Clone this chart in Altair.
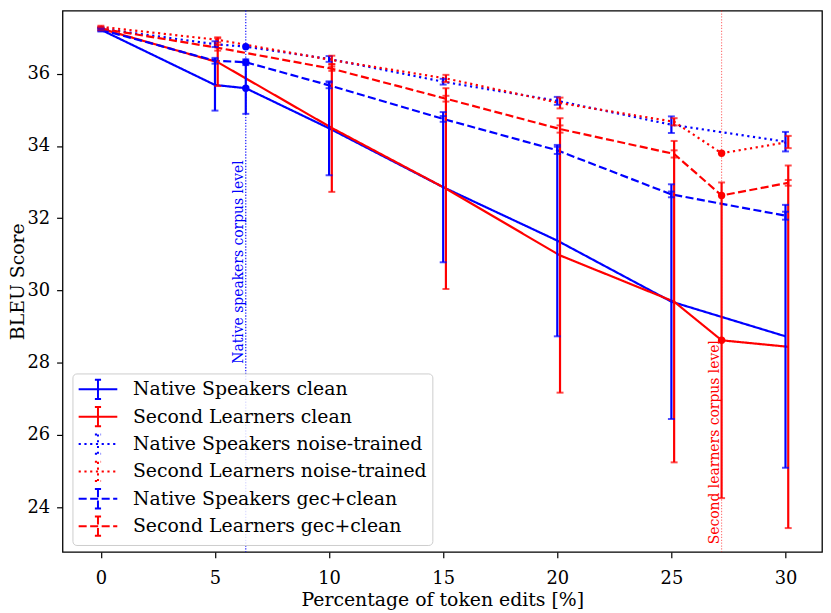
import altair as alt
import pandas as pd

# ---------------- data ----------------
SERIES = [
    "Native Speakers clean",
    "Second Learners clean",
    "Native Speakers noise-trained",
    "Second Learners noise-trained",
    "Native Speakers gec+clean",
    "Second Learners gec+clean",
]

# Native speakers (blue): x positions include the native corpus level (6.35)
ns_x = [0, 5, 6.35, 10, 15, 20, 25, 30]
ns_corpus_index = 2
# Second learners (red): x positions include the learners corpus level (27.2)
sl_x = [0, 5, 10, 15, 20, 25, 27.2, 30]
sl_corpus_index = 6

ns_clean_y = [37.22, 35.69, 35.60, 34.49, 32.86, 31.38, 29.69, 28.73]
ns_clean_err = [0.05, 0.71, 0.71, 1.30, 2.08, 2.65, 3.25, 3.64]

sl_clean_y = [37.25, 36.32, 34.50, 32.82, 30.97, 29.69, 28.62, 28.44]
sl_clean_err = [0.05, 0.66, 1.77, 2.78, 3.80, 4.45, 4.37, 5.02]

ns_noise_y = [37.25, 36.82, 36.75, 36.41, 35.78, 35.25, 34.59, 34.12]
ns_noise_err = [0.03, 0.08, 0.0, 0.08, 0.08, 0.11, 0.23, 0.27]

sl_noise_y = [37.30, 36.94, 36.38, 35.87, 35.19, 34.67, 33.80, 34.11]
sl_noise_err = [0.03, 0.07, 0.12, 0.10, 0.15, 0.10, 0.0, 0.17]

ns_gec_y = [37.22, 36.36, 36.32, 35.68, 34.75, 33.88, 32.66, 32.07]
ns_gec_err = [0.03, 0.08, 0.08, 0.08, 0.08, 0.10, 0.08, 0.11]

sl_gec_y = [37.25, 36.72, 36.14, 35.31, 34.47, 33.78, 32.63, 32.98]
sl_gec_err = [0.03, 0.08, 0.06, 0.08, 0.10, 0.10, 0.0, 0.08]

corpus_levels = [6.35, 27.2]
corpus_labels = ["Native speakers corpus level", "Second learners corpus level"]
corpus_label_y = [28, 23]

x_ticks = [0, 5, 10, 15, 20, 25, 30]
y_ticks = [24, 26, 28, 30, 32, 34, 36]

# ---------------- styles ----------------
BLUE = "#0000ff"
RED = "#ff0000"
RED_SHIFT = 0.12  # small horizontal dodge of the red error bars
LW = 2.2
DOT = [2.2, 3.6]
DASH = [8.1, 3.5]
SOLID = [1, 0]

series_colors = [BLUE, RED, BLUE, RED, BLUE, RED]
series_dashes = [SOLID, SOLID, DOT, DOT, DASH, DASH]

values = [
    (ns_x, ns_clean_y, ns_clean_err, False, ns_corpus_index),
    (sl_x, sl_clean_y, sl_clean_err, True, sl_corpus_index),
    (ns_x, ns_noise_y, ns_noise_err, False, ns_corpus_index),
    (sl_x, sl_noise_y, sl_noise_err, True, sl_corpus_index),
    (ns_x, ns_gec_y, ns_gec_err, False, ns_corpus_index),
    (sl_x, sl_gec_y, sl_gec_err, True, sl_corpus_index),
]

rows = []
for name, (xs, ys, es, red, ci) in zip(SERIES, values):
    for i, (xv, yv, ev) in enumerate(zip(xs, ys, es)):
        corpus = i == ci
        xp = xv if (corpus or not red or xv == 0) else xv + RED_SHIFT
        rows.append(dict(series=name, x=xp, y=yv, err=ev,
                         lo=yv - ev, hi=yv + ev, corpus=corpus, order=i))
df = pd.DataFrame(rows)
df_err = df[df.err > 0]
df_pts = df[df.corpus]

native_df = pd.DataFrame(dict(x=[corpus_levels[0]], label=[corpus_labels[0]],
                              ly=[corpus_label_y[0]]))
learner_df = pd.DataFrame(dict(x=[corpus_levels[1]], label=[corpus_labels[1]],
                               ly=[corpus_label_y[1]]))

FONT = "DejaVu Serif"
xscale = alt.Scale(domain=[-1.68, 31.6], nice=False, zero=False)
yscale = alt.Scale(domain=[22.76, 37.75], nice=False, zero=False)
color_scale = alt.Scale(domain=SERIES, range=series_colors)
dash_scale = alt.Scale(domain=SERIES, range=series_dashes)

X = alt.X("x:Q", scale=xscale,
          axis=alt.Axis(values=x_ticks, title="Percentage of token edits [%]",
                        grid=False, domain=False, tickSize=6, tickWidth=1.2,
                        tickColor="black", labelPadding=12, labelFontSize=18,
                        titleFontSize=19, titleFontWeight="normal",
                        titlePadding=3, labelColor="black", titleColor="black",
                        labelFlush=False))
Y = alt.Y("y:Q", scale=yscale,
          axis=alt.Axis(values=y_ticks, title="BLEU Score", grid=False,
                        domain=False, tickSize=6, tickWidth=1.2,
                        tickColor="black", labelPadding=7, labelFontSize=18,
                        titleFontSize=19, titleFontWeight="normal",
                        titleX=-45, titleBaseline="middle",
                        labelColor="black", titleColor="black",
                        labelFlush=False))


def corpus_layers(data, color, opacity):
    rule = alt.Chart(data).mark_rule(strokeWidth=1.1, strokeDash=[1.3, 1.6],
                                     color=color, opacity=opacity).encode(
        x=alt.X("x:Q", scale=xscale),
    )
    text = alt.Chart(data).mark_text(angle=270, align="left", baseline="bottom",
                                     fontSize=14, font=FONT, dx=-1,
                                     color=color).encode(
        x=alt.X("x:Q", scale=xscale),
        y=alt.Y("ly:Q", scale=yscale),
        text="label:N",
    )
    return rule, text


nat_rule, nat_text = corpus_layers(native_df, BLUE, 1.0)
lrn_rule, lrn_text = corpus_layers(learner_df, RED, 0.55)

# symbol path: a line sample with an error bar in its middle; drawn at
# sqrt(size)/2 per unit, so x from -1 to 3 spans 2*sqrt(size) pixels
legend = alt.Legend(
    title=None, orient="none", legendX=10, legendY=366,
    symbolType="M-1,0H3M1,-1V1M0.68,-1H1.32M0.68,1H1.32",
    symbolSize=380, symbolStrokeWidth=2,
    labelFont=FONT, labelFontSize=19, labelColor="black", labelOffset=34,
    rowPadding=-0.4, padding=5, fillColor="rgba(255,255,255,0.85)",
    strokeColor="#cccccc", cornerRadius=4, labelLimit=400,
)

lines = alt.Chart(df).mark_line(strokeWidth=LW).encode(
    x=X, y=Y,
    color=alt.Color("series:N", scale=color_scale, legend=legend, sort=SERIES),
    strokeDash=alt.StrokeDash("series:N", scale=dash_scale, legend=legend, sort=SERIES),
    order="order:Q",
)

bars = alt.Chart(df_err).mark_rule(strokeWidth=LW).encode(
    x=alt.X("x:Q", scale=xscale),
    y=alt.Y("lo:Q", scale=yscale),
    y2="hi:Q",
    color=alt.Color("series:N", scale=color_scale, legend=None),
)
caps_lo = alt.Chart(df_err).mark_tick(orient="horizontal", size=7, thickness=2).encode(
    x=alt.X("x:Q", scale=xscale),
    y=alt.Y("lo:Q", scale=yscale),
    color=alt.Color("series:N", scale=color_scale, legend=None),
)
caps_hi = alt.Chart(df_err).mark_tick(orient="horizontal", size=7, thickness=2).encode(
    x=alt.X("x:Q", scale=xscale),
    y=alt.Y("hi:Q", scale=yscale),
    color=alt.Color("series:N", scale=color_scale, legend=None),
)
points = alt.Chart(df_pts).mark_point(filled=True, size=55, opacity=1).encode(
    x=alt.X("x:Q", scale=xscale),
    y=alt.Y("y:Q", scale=yscale),
    color=alt.Color("series:N", scale=color_scale, legend=None),
)

chart = alt.layer(
    nat_rule, lrn_rule, nat_text, lrn_text, lines, bars, caps_lo, caps_hi, points
).properties(
    width=766, height=546,
    autosize=alt.AutoSizeParams(type="none"),
    padding={"left": 55, "top": 0, "right": 1, "bottom": 58},
).configure(font=FONT).configure_view(
    stroke="black", strokeWidth=1.3
)

chart.save("out.html", embed_options={"renderer": "svg", "actions": False})
